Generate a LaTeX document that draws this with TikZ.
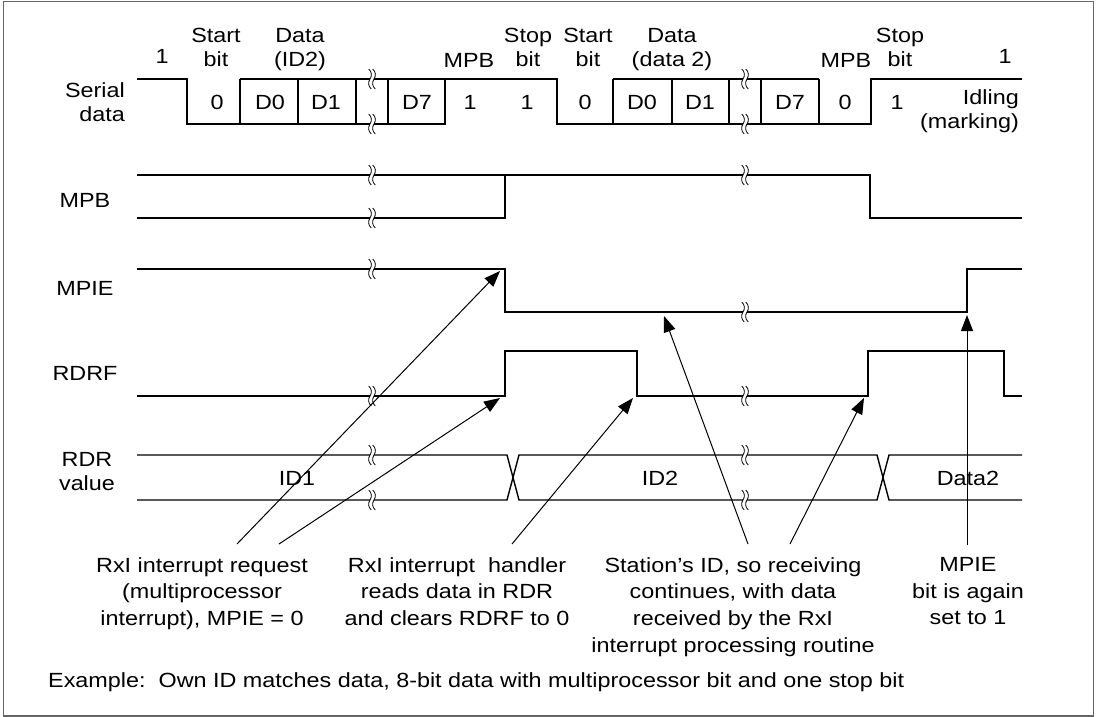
\documentclass[tikz,border=0pt]{standalone}
\usepackage{fontspec}
\setmainfont{Liberation Sans}[FakeStretch=1.14]
\usetikzlibrary{arrows.meta}

\begin{document}
\begin{tikzpicture}[x=1pt, y=-1pt,
    sig/.style={line width=1.4pt},
    lbl/.style={inner sep=0pt, align=center, font=\fontsize{20.5}{24}\selectfont},
    note/.style={inner sep=0pt, align=center, font=\fontsize{20.5}{26.7}\selectfont},
    callout/.style={line width=1pt, -{Triangle[length=16pt, width=12pt]}},
    brk/.pic={
        \fill[white] (-2,-2.5) rectangle (2,2.5);
        \foreach \dx in {-2,2}
            \draw[line width=0.8pt, shift={(\dx,0)}] (-1.2,-10) .. controls (2,-7) and (2,-3) .. (0,0) .. controls (-2,3) and (-2,7) .. (1.2,10);
    }]

    \useasboundingbox (0,0) rectangle (1096,717);
    \draw[line width=1.5pt, black!60] (3.5,1.5) rectangle (1093.5,716);

    % =================================================================
    % 1. SERIAL DATA
    % =================================================================
    \draw[sig] (137,79) -- (187,79) -- (187,124) -- (445,124) -- (445,79) -- (557,79)
        -- (557,124) -- (871,124) -- (871,79) -- (1022,79);
    \draw[sig] (240,79) -- (445,79) (613,79) -- (819,79);
    \foreach \x in {240,298,356,388,613,672,729,761,819}
        \draw[sig] (\x,79) -- (\x,124);

    \node[lbl, anchor=north east, align=right] (serlbl) at (125,82) {Serial\\data};
    \node[lbl, anchor=base] (one1) at (162,64) {1};
    \node[lbl, anchor=north] (start1) at (216,28) {Start\\bit};
    \node[lbl, anchor=north] (data1) at (300,28) {Data\\(ID2)};
    \node[lbl, anchor=base] (mpb1) at (469,67) {MPB};
    \node[lbl, anchor=north] (stop1) at (528,28) {Stop\\bit};
    \node[lbl, anchor=north] (start2) at (588,28) {Start\\bit};
    \node[lbl, anchor=north] (data2) at (672,28) {Data\\(data 2)};
    \node[lbl, anchor=base] (mpb2) at (846,67) {MPB};
    \node[lbl, anchor=north] (stop2) at (900,28) {Stop\\bit};
    \node[lbl, anchor=base] (one2) at (1005,64) {1};

    \foreach \x/\t/\n in {217/0/b0, 270/D0/b1, 326/D1/b2, 417/D7/b3, 470/1/b4, 527/1/b5,
        585/0/b6, 642/D0/b7, 700/D1/b8, 790/D7/b9, 845/0/b10, 897/1/b11}
        \node[lbl, anchor=base] (\n) at (\x,110) {\t};
    \node[lbl, anchor=north east, align=right] (idle) at (1019,89) {Idling\\(marking)};

    % =================================================================
    % 2. MPB, MPIE, RDRF
    % =================================================================
    \draw[sig] (137,175) -- (505,175);
    \draw[sig] (137,218) -- (505,218) -- (505,175) -- (870,175) -- (870,218) -- (1022,218);
    \node[lbl, anchor=base] (mpblbl) at (85,207) {MPB};

    \draw[sig] (137,269) -- (505,269) -- (505,312) -- (967,312) -- (967,269) -- (1022,269);
    \node[lbl, anchor=base] (mpielbl) at (85,295) {MPIE};

    \draw[sig] (137,396) -- (505,396) -- (505,351) -- (637,351) -- (637,396) -- (868,396)
        -- (868,351) -- (1004,351) -- (1004,396) -- (1022,396);
    \node[lbl, anchor=base] (rdrflbl) at (85,380) {RDRF};

    % =================================================================
    % 3. RDR VALUE
    % =================================================================
    \draw[sig] (137,455) -- (507,455) -- (519,500) -- (877,500) -- (889,455) -- (1022,455);
    \draw[sig] (137,500) -- (507,500) -- (519,455) -- (877,455) -- (889,500) -- (1022,500);
    \node[lbl, anchor=north] (rdrlbl) at (87,452) {RDR\\value};
    \node[lbl] (id1) at (297,478) {ID1};
    \node[lbl] (id2) at (660,478) {ID2};
    \node[lbl] (dat2) at (968,478) {Data2};

    % break marks
    \foreach \y in {79,124,175,218,269,396,455,500}
        \pic at (372,\y) {brk};
    \foreach \y in {79,124,175,312,396,455,500}
        \pic at (745,\y) {brk};

    % =================================================================
    % 4. NOTES AND CALLOUTS
    % =================================================================
    \coordinate (mpieFall) at (500,271);
    \coordinate (rdrfRise) at (500,398);
    \coordinate (rdrfFall) at (633,398);
    \coordinate (mpieLow) at (664,316);
    \coordinate (rdrfRise2) at (864,398);
    \coordinate (mpieRise) at (967,315);

    \node[note, anchor=north] (reqtxt) at (202,557) {RxI interrupt request\\(multiprocessor\\interrupt), MPIE = 0};
    \node[note, anchor=north] (clrtxt) at (457,557) {RxI interrupt\ \ handler\\reads data in RDR\\and clears RDRF to 0};
    \node[note, anchor=north] (idtxt) at (733,557) {Station’s ID, so receiving\\continues, with data\\received by the RxI\\interrupt processing routine};
    \node[note, anchor=north] (settxt) at (968,557) {MPIE\\bit is again\\set to 1};

    \coordinate (reqA) at (237,544);
    \coordinate (reqB) at (279,544);
    \coordinate (clrA) at (512,544);
    \coordinate (idA) at (748,544);
    \coordinate (idB) at (790,544);
    \coordinate (setA) at (967,545);

    \draw[callout] (reqA) -- (mpieFall);
    \draw[callout] (reqB) -- (rdrfRise);
    \draw[callout] (clrA) -- (rdrfFall);
    \draw[callout] (idA) -- (mpieLow);
    \draw[callout] (idB) -- (rdrfRise2);
    \draw[callout] (setA) -- (mpieRise);

    \node[lbl, anchor=base west] (exmp) at (48,687) {Example:\ \ Own ID matches data, 8-bit data with multiprocessor bit and one stop bit};

\end{tikzpicture}
\end{document}
